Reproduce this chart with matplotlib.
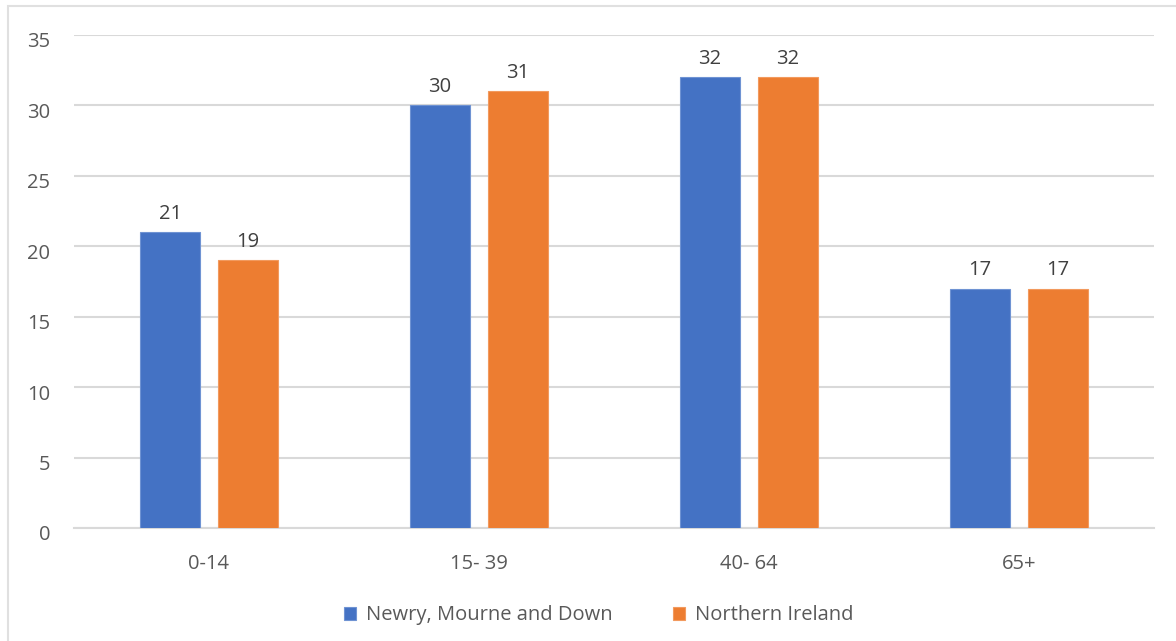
import matplotlib.pyplot as plt
import numpy as np
from matplotlib.patches import Rectangle
from matplotlib.transforms import ScaledTranslation

plt.rcParams['font.family'] = ['Open Sans', 'DejaVu Sans']

# --- data
age_groups = ['0-14', '15- 39', '40- 64', '65+']
newry = [21, 30, 32, 17]
ni = [19, 31, 32, 17]
series_names = ['Newry, Mourne and Down', 'Northern Ireland']
yticks = [0, 5, 10, 15, 20, 25, 30, 35]

blue = '#4472C4'
orange = '#ED7D31'
txt = '#595959'
grid = '#D9D9D9'
fs = 14.5

fig = plt.figure(figsize=(11.76, 6.41), dpi=100)
ax = fig.add_axes([0.0629, 0.1763, 0.9184, 0.7691])

x = np.arange(len(age_groups))
w = 0.222
off = 0.144
b1 = ax.bar(x - off, newry, w, color=blue, edgecolor='#6f93d3', linewidth=0.8,
            label=series_names[0], zorder=3)
b2 = ax.bar(x + off, ni, w, color=orange, edgecolor='#f29a5e', linewidth=0.8,
            label=series_names[1], zorder=3)

for bars in (b1, b2):
    ax.bar_label(bars, padding=6, fontsize=fs, color='#404040')

ax.set_xlim(-0.5, len(age_groups) - 0.5)
ax.set_ylim(0, 35)
ax.set_yticks(yticks)
ax.set_xticks(x)
ax.set_xticklabels(age_groups)
ax.tick_params(axis='both', length=0, labelsize=fs, colors=txt)
ax.tick_params(axis='y', pad=17)
ax.tick_params(axis='x', pad=19)
# excel puts the y labels a little below their gridline
shift = ScaledTranslation(0, -5 / 100, fig.dpi_scale_trans)
for lab in ax.get_yticklabels():
    lab.set_transform(lab.get_transform() + shift)
ax.grid(axis='y', color=grid, linewidth=1.5, zorder=0)
for s in ['top', 'right', 'left']:
    ax.spines[s].set_visible(False)
ax.spines['bottom'].set_color(grid)
ax.spines['bottom'].set_linewidth(1.5)

ax.legend(loc='center', bbox_to_anchor=(0.509, 0.04), bbox_transform=fig.transFigure,
          ncol=2, frameon=False, fontsize=fs, labelcolor=txt, handlelength=0.6,
          handleheight=0.6, handletextpad=0.5, columnspacing=3.0)

# outer chart border
fig.add_artist(Rectangle((8 / 1176, -0.05), 1.1, (641 - 6) / 641 + 0.05,
                         transform=fig.transFigure, fill=False,
                         edgecolor='#E0E0E0', linewidth=1.5))

fig.savefig('out.png', dpi=100)
